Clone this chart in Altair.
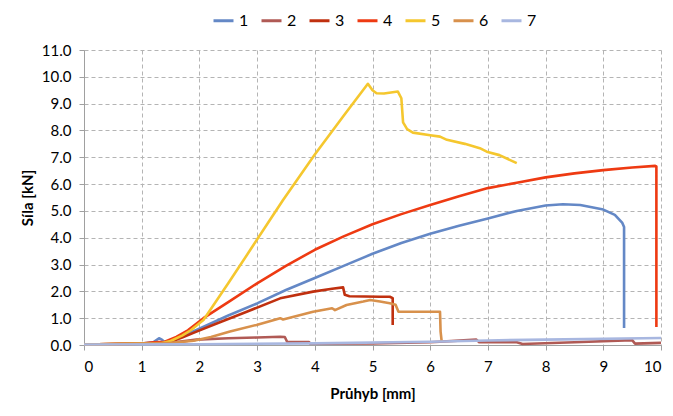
import altair as alt
import pandas as pd

# ---- data ----
s1_x = [0, 0.5, 1.0, 1.2, 1.3, 1.35, 1.4, 1.5, 1.7, 1.95, 2.5, 3.0, 3.5, 4.0, 4.5, 5.0, 5.5, 6.0, 6.5, 7.0, 7.5, 8.0, 8.3, 8.6, 9.0, 9.2, 9.33, 9.36, 9.36]
s1_y = [0.02, 0.03, 0.05, 0.1, 0.25, 0.2, 0.1, 0.15, 0.35, 0.56, 1.1, 1.55, 2.05, 2.5, 2.95, 3.4, 3.8, 4.15, 4.45, 4.72, 5.0, 5.2, 5.25, 5.22, 5.05, 4.85, 4.55, 4.4, 0.63]

s2_x = [0, 1.0, 1.5, 1.95, 2.5, 3.0, 3.4, 3.48, 3.52, 3.9, 3.92, 5.0, 6.0, 6.8, 6.85, 7.5, 7.6, 8.5, 9.5, 9.55, 10]
s2_y = [0.02, 0.05, 0.08, 0.2, 0.25, 0.28, 0.31, 0.3, 0.12, 0.11, 0.05, 0.06, 0.1, 0.2, 0.1, 0.1, 0.04, 0.1, 0.18, 0.05, 0.08]

s3_x = [0, 1.0, 1.3, 1.5, 1.7, 1.95, 2.3, 2.82, 3.4, 3.97, 4.3, 4.49, 4.52, 4.6, 5.13, 5.3, 5.35, 5.35]
s3_y = [0.02, 0.05, 0.05, 0.12, 0.28, 0.5, 0.8, 1.24, 1.74, 1.99, 2.1, 2.15, 1.87, 1.82, 1.8, 1.8, 1.75, 0.75]

s4_x = [0, 1.0, 1.2, 1.4, 1.6, 1.8, 2.07, 2.5, 3.0, 3.5, 4.0, 4.5, 5.0, 5.5, 6.0, 6.5, 7.0, 7.5, 8.0, 8.5, 9.0, 9.5, 9.9, 9.92, 9.92]
s4_y = [0.02, 0.05, 0.1, 0.12, 0.3, 0.55, 1.0, 1.6, 2.3, 2.95, 3.55, 4.05, 4.5, 4.88, 5.22, 5.55, 5.85, 6.05, 6.25, 6.4, 6.52, 6.62, 6.68, 6.66, 0.67]

s5_x = [0, 1.0, 1.3, 1.5, 1.7, 1.85, 2.07, 2.5, 2.88, 3.45, 4.0, 4.5, 4.92, 5.0, 5.07, 5.2, 5.44, 5.5, 5.53, 5.6, 5.7, 6.0, 6.17, 6.29, 6.6, 6.86, 6.98, 7.2, 7.5]
s5_y = [0.02, 0.05, 0.05, 0.15, 0.35, 0.55, 0.93, 2.3, 3.54, 5.41, 7.1, 8.55, 9.74, 9.5, 9.39, 9.38, 9.45, 9.2, 8.3, 8.05, 7.92, 7.82, 7.77, 7.65, 7.5, 7.34, 7.21, 7.08, 6.78]

s6_x = [0, 1.0, 1.5, 1.9, 2.2, 2.53, 2.99, 3.4, 3.45, 3.97, 4.3, 4.35, 4.55, 4.84, 4.96, 5.13, 5.3, 5.4, 5.45, 6.17, 6.18, 6.2]
s6_y = [0.02, 0.05, 0.08, 0.16, 0.3, 0.5, 0.75, 1.0, 0.95, 1.24, 1.37, 1.3, 1.49, 1.62, 1.68, 1.62, 1.56, 1.5, 1.24, 1.24, 0.5, 0.12]

s7_x = [0, 2, 4, 6, 7, 8, 10]
s7_y = [0.02, 0.03, 0.06, 0.12, 0.17, 0.2, 0.26]

series_names = ["1", "2", "3", "4", "5", "6", "7"]
series_colors = ["#6488C6", "#B05A55", "#C0300F", "#EE3A12", "#F5C72E", "#D8914C", "#A8B7E0"]
x_ticks = list(range(0, 11))
y_ticks = list(range(0, 12))

xs = [s1_x, s2_x, s3_x, s4_x, s5_x, s6_x, s7_x]
ys = [s1_y, s2_y, s3_y, s4_y, s5_y, s6_y, s7_y]

rows = []
for name, xv, yv in zip(series_names, xs, ys):
    for i, (a, b) in enumerate(zip(xv, yv)):
        rows.append({"s": name, "x": a, "y": b, "i": i})
df = pd.DataFrame(rows)

FONT = "Lato"

chart = alt.Chart(df).mark_line(strokeWidth=2.6, strokeJoin="round").encode(
    x=alt.X("x:Q", title="Průhyb [mm]",
            scale=alt.Scale(domain=[0, 10], nice=False),
            axis=alt.Axis(values=x_ticks, format="d", labelPadding=9, titlePadding=12,
                          tickSize=5)),
    y=alt.Y("y:Q", title="Síla [kN]",
            scale=alt.Scale(domain=[0, 11], nice=False),
            axis=alt.Axis(values=y_ticks, format=".1f", labelPadding=8, titlePadding=6,
                          tickSize=5)),
    color=alt.Color("s:N", scale=alt.Scale(domain=series_names, range=series_colors),
                    legend=alt.Legend(title=None, orient="none", direction="horizontal",
                                      columns=7, legendX=128, legendY=-41,
                                      symbolType="stroke", symbolStrokeWidth=3,
                                      symbolSize=400, labelFontSize=16, labelFont=FONT,
                                      labelOffset=4, columnPadding=6)),
    order=alt.Order("i:Q"),
).properties(
    width=577, height=295,
    autosize=alt.AutoSizeParams(type="none"),
    padding={"left": 76, "top": 42, "right": 4, "bottom": 64},
).configure_view(
    stroke=None
).configure_axis(
    labelFont=FONT, titleFont=FONT, labelFontSize=15, titleFontSize=15,
    labelColor="#000", titleColor="#000", titleFontWeight="bold",
    grid=True, gridColor="#b4b4b4", gridDash=[4, 3], gridWidth=1,
    domainColor="#a0a0a0", tickColor="#a0a0a0",
)

chart.save("out.html", embed_options={"renderer": "svg", "actions": False})
